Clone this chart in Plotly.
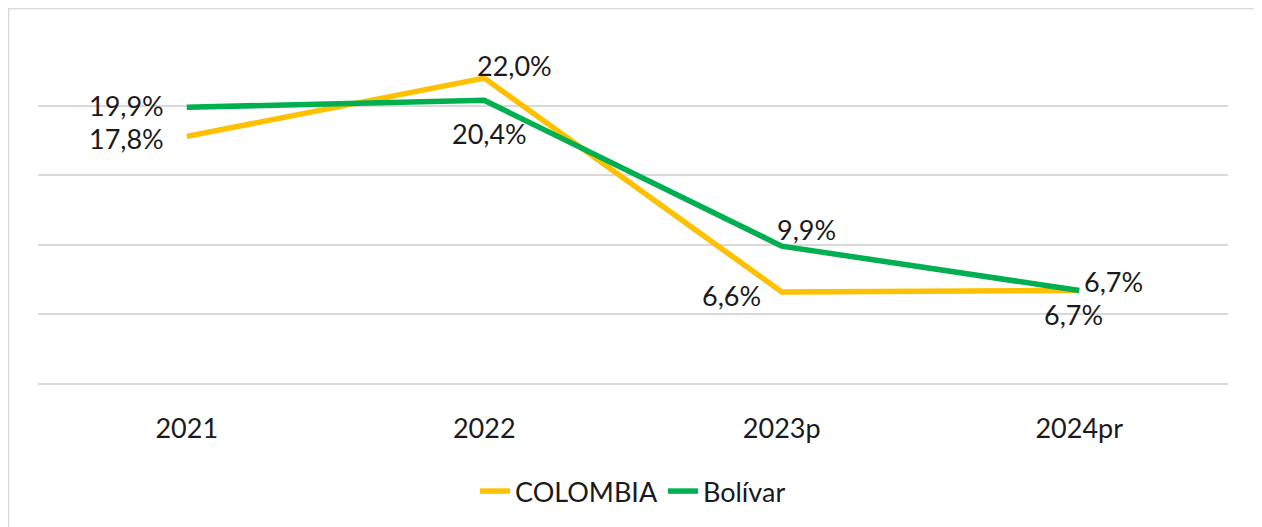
import plotly.graph_objects as go

categories = ["2021", "2022", "2023p", "2024pr"]
colombia = [17.8, 22.0, 6.6, 6.7]
bolivar = [19.9, 20.4, 9.9, 6.7]
series_names = ["COLOMBIA", "Bolívar"]

COL_Y = "#FFC000"
COL_G = "#00B050"
FONT = "Lato"
FS = 27
TXT = "#1a1a1a"

W, H = 1254, 519
L, R, T, B = 30, 34, 28, 142
pw, ph = W - L - R, H - T - B

fig = go.Figure()
fig.add_trace(go.Scatter(x=categories, y=colombia, name=series_names[0], mode="lines",
                         line=dict(color=COL_Y, width=5.5)))
fig.add_trace(go.Scatter(x=categories, y=bolivar, name=series_names[1], mode="lines",
                         line=dict(color=COL_G, width=5.5)))

def fmt(v):
    return f"{v:.1f}".replace(".", ",") + "%"

# label placement styles: (xanchor, yanchor, xshift, yshift)
col_pos = [("right", "middle", -22, -2), ("left", "bottom", -8, -5),
           ("right", "middle", -20, -4), ("center", "top", -6, -6)]
bol_pos = [("right", "middle", -22, 2), ("center", "top", 5, -16),
           ("left", "bottom", -6, -1), ("left", "bottom", 4, -8)]

anns = []
for vals, pos in ((colombia, col_pos), (bolivar, bol_pos)):
    for i, (v, (xa, ya, xs, ys)) in enumerate(zip(vals, pos)):
        anns.append(dict(x=i, y=v, xref="x", yref="y", text=fmt(v), showarrow=False,
                         xanchor=xa, yanchor=ya, xshift=xs, yshift=ys, borderpad=0,
                         font=dict(family=FONT, size=FS, color=TXT)))

fig.update_layout(
    width=W, height=H,
    margin=dict(l=L, r=R, t=T, b=B),
    paper_bgcolor="white", plot_bgcolor="white",
    showlegend=True,
    legend=dict(orientation="h", x=0.5, xanchor="center", y=-0.235, yanchor="top",
                font=dict(family=FONT, size=FS, color=TXT),
                traceorder="normal"),
    annotations=anns,
    shapes=[dict(type="rect", xref="paper", yref="paper",
                 x0=(0.5 - L) / pw, x1=(1248 - L) / pw,
                 y0=(T + ph - 560) / ph, y1=(T + ph - 0.5) / ph,
                 line=dict(color="#D9D9D9", width=1.5), fillcolor="rgba(0,0,0,0)",
                 layer="below")],
    xaxis=dict(type="category", range=[-0.5, 3.5], showgrid=False, zeroline=False,
               showline=False, ticks="", ticklabelstandoff=26,
               tickfont=dict(family=FONT, size=FS, color=TXT)),
    yaxis=dict(range=[-0.03, 25.03], tickvals=[0, 5, 10, 15, 20, 25], showgrid=True,
               gridcolor="#D9D9D9", gridwidth=1.5,
               zeroline=True, zerolinecolor="#D9D9D9", zerolinewidth=1.5,
               showticklabels=False, showline=False, ticks=""),
)

fig.write_html("out.html")
